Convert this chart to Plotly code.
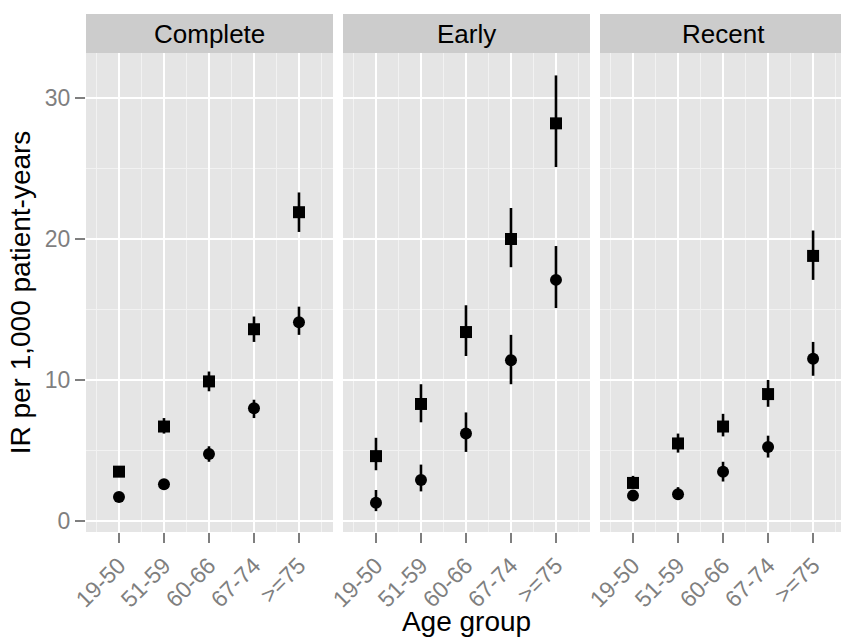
import plotly.graph_objects as go

# ---- data ----
age_groups = ["19-50", "51-59", "60-66", "67-74", ">=75"]
panels = ["Complete", "Early", "Recent"]

# square markers (IR with 95% CI)
complete_sq = [3.5, 6.7, 9.9, 13.6, 21.9]
complete_sq_lo = [3.2, 6.2, 9.2, 12.7, 20.5]
complete_sq_hi = [3.8, 7.3, 10.6, 14.5, 23.3]
early_sq = [4.6, 8.3, 13.4, 20.0, 28.2]
early_sq_lo = [3.6, 7.0, 11.7, 18.0, 25.1]
early_sq_hi = [5.9, 9.7, 15.3, 22.2, 31.6]
recent_sq = [2.7, 5.5, 6.7, 9.0, 18.8]
recent_sq_lo = [2.3, 4.85, 6.0, 8.1, 17.1]
recent_sq_hi = [3.2, 6.2, 7.6, 10.0, 20.6]

# circle markers (IR with 95% CI)
complete_ci = [1.7, 2.6, 4.75, 8.0, 14.1]
complete_ci_lo = [1.5, 2.3, 4.2, 7.3, 13.2]
complete_ci_hi = [1.9, 2.9, 5.3, 8.6, 15.2]
early_ci = [1.3, 2.9, 6.2, 11.4, 17.1]
early_ci_lo = [0.7, 2.1, 4.9, 9.7, 15.1]
early_ci_hi = [2.2, 4.0, 7.7, 13.2, 19.5]
recent_ci = [1.8, 1.9, 3.5, 5.25, 11.5]
recent_ci_lo = [1.5, 1.5, 2.8, 4.5, 10.3]
recent_ci_hi = [2.1, 2.4, 4.2, 6.05, 12.7]

y_ticks = [0, 10, 20, 30]

# ---- figure ----
W, H = 841, 637
ML, MR, MT, MB = 86, 0, 53, 105
pw = W - ML - MR
ph = H - MT - MB

xpos = list(range(1, len(age_groups) + 1))
panel_series = [
    (complete_sq, complete_sq_lo, complete_sq_hi, complete_ci, complete_ci_lo, complete_ci_hi),
    (early_sq, early_sq_lo, early_sq_hi, early_ci, early_ci_lo, early_ci_hi),
    (recent_sq, recent_sq_lo, recent_sq_hi, recent_ci, recent_ci_lo, recent_ci_hi),
]

fig = go.Figure()
for i, (sq, sql, sqh, ci, cil, cih) in enumerate(panel_series):
    xa = "x" if i == 0 else f"x{i+1}"
    ya = "y" if i == 0 else f"y{i+1}"
    for vals, lo, hi, sym, size in [(sq, sql, sqh, "square", 12), (ci, cil, cih, "circle", 12)]:
        fig.add_trace(go.Scatter(
            x=xpos, y=vals, xaxis=xa, yaxis=ya, mode="markers",
            marker=dict(symbol=sym, size=size, color="black", line=dict(width=0)),
            error_y=dict(type="data", symmetric=False,
                         array=[h - v for h, v in zip(hi, vals)],
                         arrayminus=[v - l for v, l in zip(vals, lo)],
                         width=0, thickness=2.6, color="black"),
            showlegend=False, cliponaxis=False,
        ))

font_family = "Liberation Sans, Arial, sans-serif"
tick_font = dict(family=font_family, size=23, color="#7F7F7F")

domains = [
    (0, 247 / pw),
    ((343 - ML) / pw, (590 - ML) / pw),
    ((600 - ML) / pw, 1.0),
]
x_ranges = [[0.267, 5.756], [0.267, 5.756], [0.267, 5.62]]
y_range = [-0.78, 33.19]

layout = dict(
    width=W, height=H,
    margin=dict(l=ML, r=MR, t=MT, b=MB, pad=0),
    paper_bgcolor="white",
    plot_bgcolor="#E5E5E5",
    font=dict(family=font_family, color="black"),
)

for i in range(3):
    xkey = "xaxis" if i == 0 else f"xaxis{i+1}"
    ykey = "yaxis" if i == 0 else f"yaxis{i+1}"
    ya = "y" if i == 0 else f"y{i+1}"
    xa = "x" if i == 0 else f"x{i+1}"
    layout[xkey] = dict(
        domain=list(domains[i]), anchor=ya, range=x_ranges[i],
        tickmode="array", tickvals=xpos, ticktext=age_groups, tickangle=-45,
        tickfont=tick_font, ticks="outside", ticklen=10, tickwidth=2,
        tickcolor="#7F7F7F", showgrid=True, gridcolor="white", gridwidth=2,
        zeroline=False, showline=False,
        minor=dict(tickvals=[p - 0.5 for p in xpos] + [xpos[-1] + 0.5],
                   showgrid=True, gridcolor="#F2F2F2", gridwidth=1, ticks=""),
    )
    layout[ykey] = dict(
        domain=[0, 1], anchor=xa, range=y_range,
        tickmode="array", tickvals=y_ticks,
        showticklabels=(i == 0), tickfont=tick_font,
        ticks="outside" if i == 0 else "", ticklen=10, tickwidth=2,
        tickcolor="#7F7F7F", showgrid=True, gridcolor="white", gridwidth=2,
        zeroline=False, showline=False,
        minor=dict(tickvals=[5, 15, 25], showgrid=True, gridcolor="#F2F2F2",
                   gridwidth=1, ticks=""),
    )
    if i > 0:
        layout[ykey]["matches"] = "y"

layout["xaxis2"]["title"] = dict(text="Age group", font=dict(size=28, family=font_family),
                                 standoff=2)
layout["yaxis"]["title"] = dict(text="IR per 1,000 patient-years",
                                font=dict(size=28, family=font_family), standoff=6)

fig.update_layout(**layout)

# facet strips
strip_h = 39 / ph
for i, name in enumerate(panels):
    xa = "x" if i == 0 else f"x{i+1}"
    fig.add_shape(type="rect", xref=f"{xa} domain", yref="paper",
                  x0=0, x1=1, y0=1, y1=1 + strip_h,
                  fillcolor="#CCCCCC", line=dict(width=0), layer="below")
    fig.add_annotation(text=name, xref=f"{xa} domain", yref="paper",
                       x=0.5 if i < 2 else (0.5 * 247 / 241), y=1 + strip_h / 2,
                       showarrow=False, xanchor="center", yanchor="middle",
                       font=dict(size=26, family=font_family, color="black"))

fig.write_html("out.html", config={"displayModeBar": False},
               post_script="document.body.style.margin='0px';document.body.style.overflow='hidden';")
